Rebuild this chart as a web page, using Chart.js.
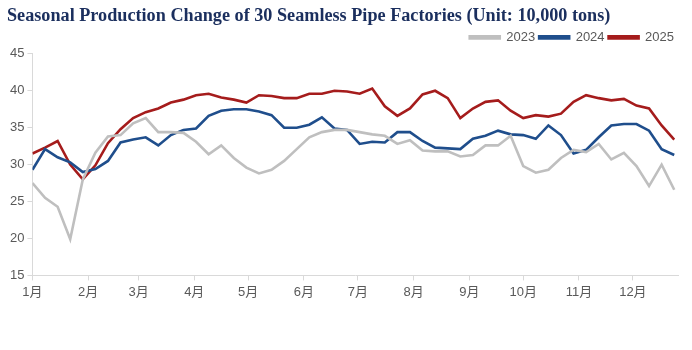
<!DOCTYPE html>
<html>
<head>
<meta charset="utf-8">
<script src="https://cdn.jsdelivr.net/npm/chart.js@4"></script>
<style>
  html, body { margin: 0; padding: 0; background: #fff; }
  #wrap { width: 692px; height: 350px; }
</style>
</head>
<body>
<div id="wrap"><canvas id="pipeChart" width="692" height="350"></canvas></div>
<script>
// month tick labels and the day of year each month starts on
const months = ['1月', '2月', '3月', '4月', '5月', '6月', '7月', '8月', '9月', '10月', '11月', '12月'];
const monthStartDay = [0, 31, 59, 90, 120, 151, 181, 212, 243, 273, 304, 334];

// weekly output, 10,000 tons
const y2023 = [27.5, 25.5, 24.3, 19.9, 28.0, 31.6, 33.8, 34.0, 35.6, 36.3, 34.4, 34.4, 34.3, 33.1, 31.4, 32.6,
  30.9, 29.6, 28.8, 29.3, 30.5, 32.1, 33.7, 34.4, 34.7, 34.7, 34.4, 34.1, 33.9, 32.8, 33.3, 31.9,
  31.8, 31.8, 31.1, 31.3, 32.6, 32.6, 33.9, 29.8, 28.9, 29.3, 30.9, 32.0, 31.7, 32.8, 30.7, 31.6,
  29.8, 27.1, 30.0, 26.6];
const y2024 = [29.3, 32.1, 31.0, 30.3, 29.0, 29.4, 30.5, 33.0, 33.4, 33.7, 32.6, 34.0, 34.7, 34.9, 36.6, 37.3,
  37.5, 37.5, 37.2, 36.7, 35.0, 35.0, 35.4, 36.4, 34.9, 34.7, 32.8, 33.1, 33.0, 34.4, 34.4, 33.2,
  32.3, 32.2, 32.1, 33.5, 33.9, 34.6, 34.1, 34.0, 33.5, 35.3, 34.0, 31.5, 32.0, 33.7, 35.3, 35.5,
  35.5, 34.6, 32.1, 31.3];
const y2025 = [31.5, 32.3, 33.2, 30.0, 28.0, 29.9, 32.9, 34.8, 36.3, 37.1, 37.6, 38.4, 38.8, 39.4, 39.6, 39.1,
  38.8, 38.4, 39.4, 39.3, 39.0, 39.0, 39.6, 39.6, 40.0, 39.9, 39.6, 40.3, 37.9, 36.6, 37.6, 39.5,
  40.0, 39.0, 36.3, 37.6, 38.5, 38.7, 37.3, 36.3, 36.7, 36.5, 36.9, 38.5, 39.4, 39.0, 38.7, 38.9,
  38.0, 37.6, 35.3, 33.4];

const seriesNames = ['2023', '2024', '2025'];
const seriesColors = ['#bfbfbf', '#1f4e8c', '#a51c1c'];

const monthTicks = monthStartDay.map(d => d / 7);
const toPoints = arr => arr.map((v, i) => ({ x: i, y: v }));

const axisColor = '#d9d9d9';
const labelFont = { family: '"Liberation Sans", "Noto Sans CJK SC", sans-serif', size: 13 };

const ctx = document.getElementById('pipeChart').getContext('2d');
const chart = new Chart(ctx, {
  type: 'line',
  data: {
    datasets: [y2023, y2024, y2025].map((arr, k) => ({
      label: seriesNames[k],
      data: toPoints(arr),
      borderColor: seriesColors[k],
      backgroundColor: seriesColors[k],
      borderWidth: 2.6,
      pointRadius: 0,
      tension: 0
    }))
  },
  options: {
    responsive: false,
    animation: false,
    layout: { padding: { left: 7, right: 14, top: 1, bottom: 46 } },
    plugins: {
      title: {
        display: true,
        text: 'Seasonal Production Change of 30 Seamless Pipe Factories (Unit: 10,000 tons)',
        align: 'start',
        color: '#1b2f5e',
        font: { family: '"Liberation Serif", "Times New Roman", serif', size: 18.2, weight: 'bold' },
        padding: { top: 4, bottom: 0 }
      },
      legend: {
        position: 'top',
        align: 'end',
        labels: {
          boxWidth: 30,
          boxHeight: 2,
          padding: 4,
          color: '#595959',
          font: labelFont
        }
      },
      tooltip: { enabled: false }
    },
    scales: {
      x: {
        type: 'linear',
        min: 0,
        max: 51.3,
        afterBuildTicks: scale => { scale.ticks = monthTicks.map(v => ({ value: v })); },
        ticks: {
          color: '#595959',
          font: labelFont,
          autoSkip: false,
          maxRotation: 0,
          padding: 4,
          callback: (value, index) => months[index]
        },
        grid: { drawOnChartArea: false, drawTicks: true, tickLength: 5, color: axisColor },
        border: { color: axisColor }
      },
      y: {
        min: 15,
        max: 45,
        ticks: { stepSize: 5, color: '#595959', font: labelFont, padding: 3 },
        grid: { drawOnChartArea: false, drawTicks: true, tickLength: 5, color: axisColor },
        border: { color: axisColor }
      }
    }
  }
});
</script>
</body>
</html>
